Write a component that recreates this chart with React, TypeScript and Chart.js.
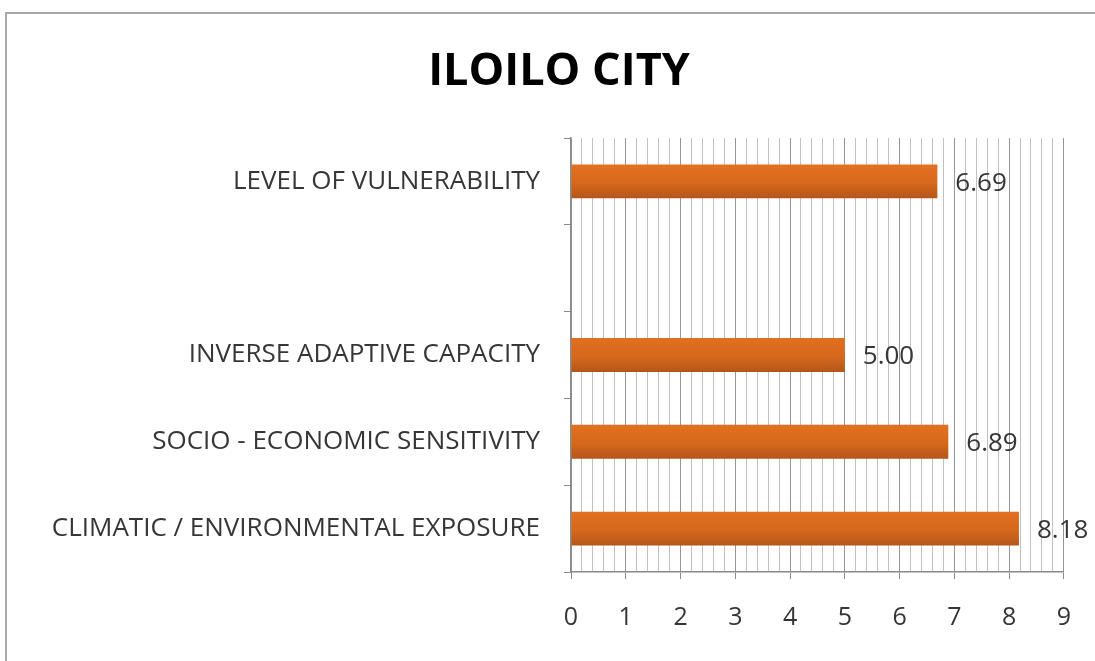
import React, { useEffect, useRef } from "react";
import { Chart, registerables } from "chart.js";

Chart.register(...registerables);

const TITLE = "ILOILO CITY";
const CATEGORIES = [
  "LEVEL OF VULNERABILITY",
  "",
  "INVERSE ADAPTIVE CAPACITY",
  "SOCIO - ECONOMIC SENSITIVITY",
  "CLIMATIC / ENVIRONMENTAL EXPOSURE",
];
const VALUES: (number | null)[] = [6.69, null, 5.0, 6.89, 8.18];
const X_MIN = 0;
const X_MAX = 9;
const X_MINOR_STEP = 0.2;

const LABEL_FONT = "'Open Sans', 'Liberation Sans', sans-serif";

const isMajor = (v: number) => Math.abs(v - Math.round(v)) < 1e-6;

const decorPlugin = {
  id: "decor",
  beforeDraw(chart: any) {
    const ctx = chart.ctx;
    ctx.save();
    ctx.fillStyle = "#ffffff";
    ctx.fillRect(0, 0, chart.width, chart.height);
    ctx.strokeStyle = "#a8a8a8";
    ctx.lineWidth = 2;
    ctx.beginPath();
    ctx.moveTo(6, chart.height + 5);
    ctx.lineTo(6, 13);
    ctx.lineTo(chart.width + 5, 13);
    ctx.stroke();
    ctx.fillStyle = "#000000";
    ctx.font = `bold 45px ${LABEL_FONT}`;
    ctx.textAlign = "center";
    ctx.textBaseline = "middle";
    ctx.fillText(TITLE, 559, 72);
    ctx.restore();
  },
  afterDatasetsDraw(chart: any) {
    const ctx = chart.ctx;
    const meta = chart.getDatasetMeta(0);
    ctx.save();
    ctx.fillStyle = "#363636";
    ctx.font = `26px ${LABEL_FONT}`;
    ctx.textAlign = "left";
    ctx.textBaseline = "middle";
    meta.data.forEach((bar: any, i: number) => {
      const v = VALUES[i];
      if (v === null || v === undefined) return;
      ctx.fillText(v.toFixed(2), bar.x + 18, bar.y + 2);
    });
    ctx.restore();
  },
};

export default function App() {
  const ref = useRef<HTMLCanvasElement | null>(null);

  useEffect(() => {
    if (!ref.current) return;
    const chart = new Chart(ref.current, {
      type: "bar",
      data: {
        labels: CATEGORIES,
        datasets: [
          {
            data: VALUES as any,
            backgroundColor: (c: any) => {
              const chartObj = c.chart;
              const ys = chartObj.scales?.y;
              if (!ys || c.dataIndex === undefined) return "#d5691f";
              const yc = ys.getPixelForValue(c.dataIndex);
              if (!Number.isFinite(yc)) return "#d5691f";
              const g = chartObj.ctx.createLinearGradient(0, yc - 17, 0, yc + 17);
              g.addColorStop(0, "#e2701f");
              g.addColorStop(0.55, "#d6681c");
              g.addColorStop(1, "#b3561a");
              return g;
            },
            borderWidth: 0,
            barPercentage: 0.39,
            categoryPercentage: 1,
          },
        ],
      },
      options: {
        indexAxis: "y",
        responsive: false,
        animation: false,
        events: [],
        layout: { padding: { top: 138, right: 25, bottom: 0, left: 0 } },
        plugins: {
          legend: { display: false },
          title: { display: false },
          tooltip: { enabled: false },
        },
        scales: {
          x: {
            type: "linear",
            min: X_MIN,
            max: X_MAX,
            afterFit: (s: any) => {
              s.height = 89;
            },
            ticks: {
              stepSize: X_MINOR_STEP,
              autoSkip: false,
              maxRotation: 0,
              padding: 24,
              color: "#363636",
              font: { family: LABEL_FONT, size: 25 },
              callback: (v: any) => (isMajor(Number(v)) ? String(Math.round(Number(v))) : ""),
            },
            grid: {
              color: (c: any) => (isMajor(c.tick?.value ?? 0) ? "#969696" : "#c0c0c0"),
              tickColor: (c: any) => (isMajor(c.tick?.value ?? 0) ? "#8a8a8a" : "rgba(0,0,0,0)"),
              tickLength: 7,
              lineWidth: 1,
            },
            border: { color: "#8a8a8a", width: 1.5 },
          },
          y: {
            afterFit: (s: any) => {
              s.width = 571;
            },
            ticks: {
              padding: 24,
              color: "#363636",
              font: { family: LABEL_FONT, size: 26 },
            },
            grid: {
              offset: true,
              drawOnChartArea: false,
              tickLength: 7,
              tickColor: "#8a8a8a",
            },
            border: { color: "#8a8a8a", width: 1.5 },
          },
        },
      },
      plugins: [decorPlugin],
    });
    return () => chart.destroy();
  }, []);

  return (
    <div style={{ position: "fixed", left: 0, top: 0, width: 1095, height: 661, background: "#fff" }}>
      <canvas ref={ref} width={1095} height={661} style={{ width: 1095, height: 661, display: "block" }} />
    </div>
  );
}
